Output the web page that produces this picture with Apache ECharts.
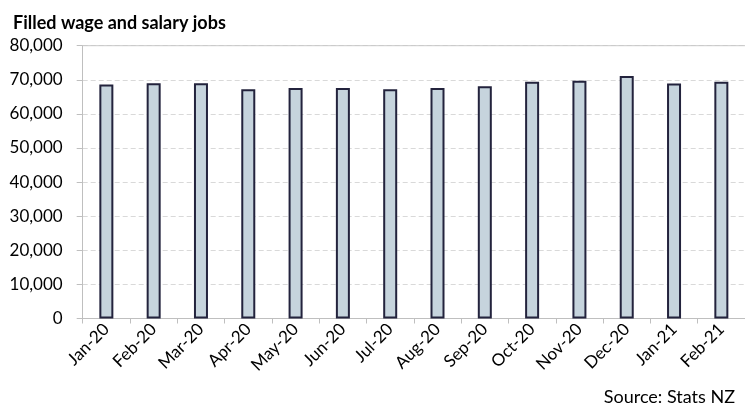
<!DOCTYPE html>
<html>
<head>
<meta charset="utf-8">
<script src="https://cdn.jsdelivr.net/npm/echarts@6/dist/echarts.min.js"></script>
<style>html,body{margin:0;padding:0;background:#fff;}#c{width:745px;height:410px;}</style>
</head>
<body>
<div id="c"></div>
<script>
var categories = ['Jan-20','Feb-20','Mar-20','Apr-20','May-20','Jun-20','Jul-20','Aug-20','Sep-20','Oct-20','Nov-20','Dec-20','Jan-21','Feb-21'];
var jobs = [68600, 69000, 69000, 67200, 67600, 67600, 67200, 67600, 68100, 69400, 69700, 71100, 68900, 69400];
var yTicks = { min: 0, max: 80000, interval: 10000 };
var titleText = 'Filled wage and salary jobs';
var sourceText = 'Source: Stats NZ';

var chart = echarts.init(document.getElementById('c'), null, {renderer: 'canvas'});
var font = 'Lato, "Open Sans", sans-serif';
chart.setOption({
  animation: false,
  backgroundColor: '#ffffff',
  title: [
    { text: titleText, left: 8, top: 9, textStyle: { fontFamily: font, fontSize: 18, fontWeight: 'bold', color: '#000' } },
    { text: sourceText, right: 5, top: 383, textStyle: { fontFamily: font, fontSize: 18, fontWeight: 'normal', color: '#000' } }
  ],
  grid: { left: 82.7, right: -4, top: 45.7, bottom: 410 - 318.5, containLabel: false },
  xAxis: {
    type: 'category',
    data: categories,
    boundaryGap: true,
    axisLine: { show: true, lineStyle: { color: '#bfbfbf', width: 1 } },
    axisTick: { show: true, alignWithLabel: false, length: 5, lineStyle: { color: '#bfbfbf' } },
    axisLabel: { rotate: 45, margin: 8, fontFamily: font, fontSize: 17, color: '#000', interval: 0 }
  },
  yAxis: {
    type: 'value',
    min: yTicks.min, max: yTicks.max, interval: yTicks.interval,
    axisLine: { show: true, lineStyle: { color: '#bfbfbf', width: 1 } },
    axisTick: { show: true, length: 6, lineStyle: { color: '#bfbfbf' } },
    axisLabel: { margin: 20, fontFamily: font, fontSize: 17, color: '#000',
      formatter: function (v) { return v.toLocaleString('en-US'); } },
    splitLine: { show: true, lineStyle: { color: '#d9d9d9', type: [5, 3], width: 1 } }
  },
  series: [{
    type: 'bar',
    data: jobs,
    barWidth: 14,
    itemStyle: { color: '#c6d4dd', borderColor: '#23233d', borderWidth: 2 }
  }],
  graphic: [{
    type: 'line', z: 5,
    shape: { x1: 82.7, y1: 45.7, x2: 745, y2: 45.7 },
    style: { stroke: '#c8c8c8', lineWidth: 1 }
  }]
});
</script>
</body>
</html>
